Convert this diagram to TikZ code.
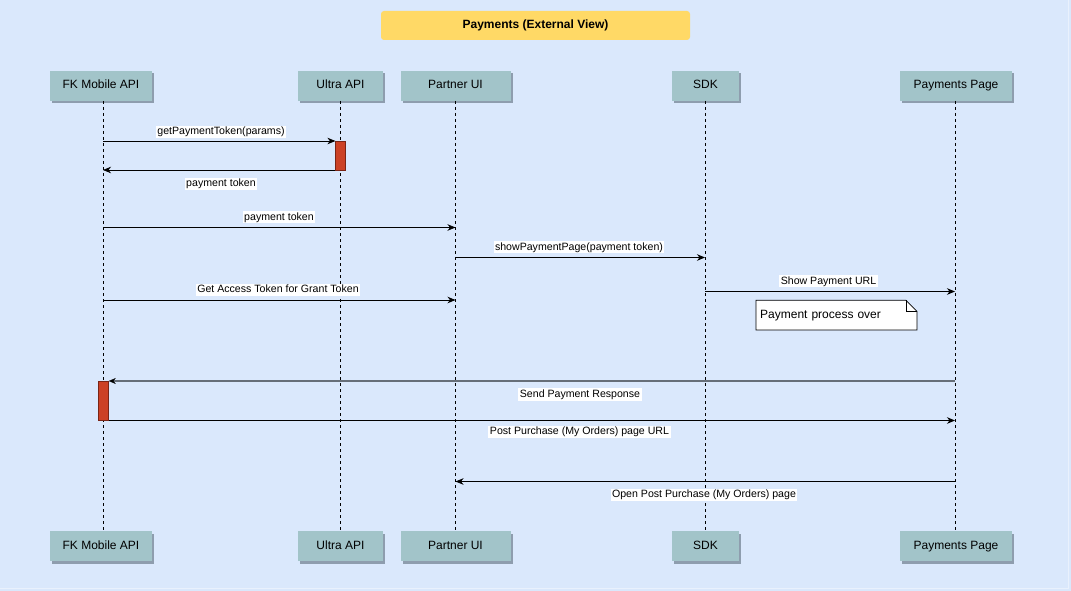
\documentclass[tikz,border=0pt]{standalone}
\usepackage{fontspec}
\setmainfont{Liberation Sans}
\usetikzlibrary{arrows.meta,shadows}
\definecolor{bgc}{HTML}{DAE8FC}
\definecolor{headc}{HTML}{A2C4C9}
\definecolor{shadc}{HTML}{8E9DAE}
\definecolor{titlec}{HTML}{FFD966}
\definecolor{actc}{HTML}{CC4125}
\definecolor{actd}{HTML}{7A2415}
\definecolor{grayc}{HTML}{666E78}
\tikzset{
  headbox/.style={fill=headc, draw=none, minimum height=30pt, inner sep=0pt,
    text height=8.6pt, text depth=2.6pt,
    font=\fontsize{12}{14}\selectfont,
    drop shadow={shadow xshift=2pt, shadow yshift=-2.5pt, fill=shadc, opacity=1}},
  lifeline/.style={draw=black, dashed, dash pattern=on 3pt off 3pt, line width=0.7pt},
  msg/.style={draw=black, line width=0.8pt, -{Stealth[length=8pt,width=6.5pt,inset=2.5pt]}},
  graymsg/.style={draw=grayc, line width=1.6pt, -{Stealth[length=7pt,width=6pt,inset=2.5pt,color=black,line width=0.4pt]}},
  lbl/.style={fill=white, inner xsep=1.5pt, inner ysep=1pt, text height=7.8pt, text depth=2.3pt,
    font=\fontsize{10.6}{12}\selectfont},
  actbar/.style={fill=actc, draw=actd, line width=0.7pt, outer sep=0pt, inner sep=0pt},
}
\begin{document}
\begin{tikzpicture}[x=1pt,y=-1pt]
\useasboundingbox (0,0) rectangle (1071,591);
\fill[bgc] (0,0) rectangle (1071,591);
\draw[white!40!bgc, line width=0.8pt] (1068.5,0) -- (1068.5,588.5) -- (0,588.5);

% title
\node[fill=titlec, rounded corners=3pt, minimum width=309pt, minimum height=29pt, inner sep=0pt,
  font=\bfseries\fontsize{12}{14}\selectfont] (title) at (535.5,25.5) {Payments (External View)};

% top headers
\node[headbox, minimum width=102pt] (fkT) at (101,86) {FK Mobile API};
\node[headbox, minimum width=85pt] (ulT) at (340.5,86) {Ultra API};
\node[headbox, minimum width=110pt] (ptT) at (455.5,86) {Partner UI};
\node[headbox, minimum width=67pt] (sdT) at (705.5,86) {SDK};
\node[headbox, minimum width=112pt] (pyT) at (956,86) {Payments Page};

% bottom headers
\node[headbox, minimum width=102pt] (fkB) at (101,546) {FK Mobile API};
\node[headbox, minimum width=85pt] (ulB) at (340.5,546) {Ultra API};
\node[headbox, minimum width=110pt] (ptB) at (455.5,546) {Partner UI};
\node[headbox, minimum width=67pt] (sdB) at (705.5,546) {SDK};
\node[headbox, minimum width=112pt] (pyB) at (956,546) {Payments Page};

% lifeline coordinates
\coordinate (fkL1) at (103,101); \coordinate (fkL2) at (103,531);
\coordinate (ulL1) at (340,101); \coordinate (ulL2) at (340,531);
\coordinate (ptL1) at (455.5,101); \coordinate (ptL2) at (455.5,531);
\coordinate (sdL1) at (705,101); \coordinate (sdL2) at (705,531);
\coordinate (pyL1) at (955,101); \coordinate (pyL2) at (955,531);
\draw[lifeline] (fkL1) -- (fkL2);
\draw[lifeline] (ulL1) -- (ulL2);
\draw[lifeline] (ptL1) -- (ptL2);
\draw[lifeline] (sdL1) -- (sdL2);
\draw[lifeline] (pyL1) -- (pyL2);

% activation bars
\node[actbar, anchor=north west, minimum width=10pt, minimum height=29pt] (actU) at (335.4,141) {};
\node[actbar, anchor=north west, minimum width=10.3pt, minimum height=39.5pt] (actF) at (98.5,381) {};

% message endpoints
\coordinate (m1a) at (103,141);
\coordinate (m2b) at (103,170);
\coordinate (m3a) at (103,227.5); \coordinate (m3b) at (455.5,227.5);
\coordinate (m4a) at (455.5,257.5); \coordinate (m4b) at (705,257.5);
\coordinate (m5a) at (103,300); \coordinate (m5b) at (455.5,300);
\coordinate (m6a) at (705,291.5); \coordinate (m6b) at (955,291.5);
\coordinate (m7a) at (955,381);
\coordinate (m8b) at (955,420.5);
\coordinate (m9a) at (955,481.5); \coordinate (m9b) at (455.5,481.5);

\draw[msg] (m1a) -- (actU.north west);
\draw[msg] (actU.south west) -- (m2b);
\draw[msg] (m3a) -- (m3b);
\draw[msg] (m4a) -- (m4b);
\draw[msg] (m5a) -- (m5b);
\draw[msg] (m6a) -- (m6b);
\draw[graymsg] (m7a) -- (actF.north east);
\draw[msg] (actF.south east) -- (m8b);
\draw[msg] (m9a) -- (m9b);

% labels
\node[lbl] (l1) at (221,131.7) {getPaymentToken(params)};
\node[lbl] (l2) at (221,184) {payment token};
\node[lbl] (l3) at (279,217.3) {payment token};
\node[lbl] (l4) at (579,247.3) {showPaymentPage(payment token)};
\node[lbl] (l5) at (278,290) {Get Access Token for Grant Token};
\node[lbl] (l6) at (828.5,281.3) {Show Payment URL};
\node[lbl] (l7) at (580,394.5) {Send Payment Response};
\node[lbl] (l8) at (579.5,432) {Post Purchase (My Orders) page URL};
\node[lbl] (l9) at (704,495) {Open Post Purchase (My Orders) page};

% note
\coordinate (nNW) at (756,300.3); \coordinate (nSE) at (917,330);
\draw[fill=white, draw=black, line width=0.7pt]
  (nNW) -- (906,300.3) -- (917,311.3) -- (nSE) -- (756,330) -- cycle;
\draw[line width=0.7pt] (906,300.3) -- (906,311.3) -- (917,311.3);
\node[anchor=north west, inner xsep=4pt, inner ysep=0pt, text width=153pt, align=left,
  minimum height=29.7pt, font=\fontsize{12}{14}\selectfont] (note) at (nNW) {Payment process over};
\end{tikzpicture}
\end{document}
